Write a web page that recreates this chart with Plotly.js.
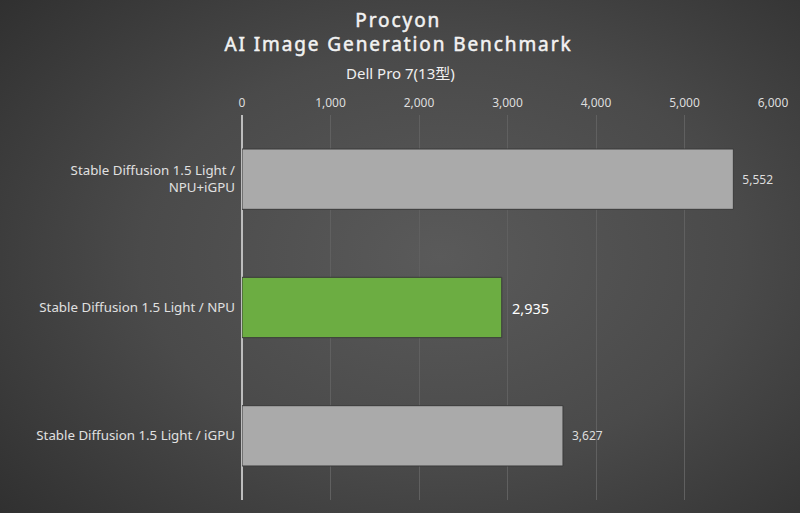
<!DOCTYPE html>
<html>
<head>
<meta charset="utf-8">
<script src="https://cdn.plot.ly/plotly-3.0.1.min.js"></script>
<style>
  html, body { margin: 0; padding: 0; }
  body {
    width: 800px; height: 513px; overflow: hidden;
    background: radial-gradient(ellipse 75% 80% at 55% 50%, #5a5a5a 0%, #4a4a4a 50%, #2e2e2e 100%);
  }
  #chart { width: 800px; height: 513px; }
  .annotation[data-index="0"] text,
  .annotation[data-index="1"] text {
    letter-spacing: 1.9px;
    stroke: #f2f2f2;
    stroke-width: 0.5px;
  }
</style>
</head>
<body>
<div id="chart"></div>
<script>
// benchmark tests, top to bottom
var tests = [
    "Stable Diffusion 1.5 Light /<br>NPU+iGPU",
    "Stable Diffusion 1.5 Light / NPU",
    "Stable Diffusion 1.5 Light / iGPU"
];
var scores = [5552, 2935, 3627];
var scoreLabels = ["5,552", "2,935", "3,627"];
var barColors = ["#aaaaaa", "#6cad42", "#aaaaaa"];
var labelSizes = [12, 14.5, 12];
var labelColors = ["#dddddd", "#ffffff", "#dddddd"];

var pad = '\u2002';

var trace = {
    type: 'bar',
    orientation: 'h',
    x: scores,
    y: tests,
    text: scoreLabels.map(function(s) { return pad + s; }),
    textposition: 'outside',
    cliponaxis: false,
    textfont: { family: 'Noto Sans, sans-serif', size: labelSizes, color: labelColors },
    marker: {
        color: barColors,
        line: { color: '#3a3a3a', width: 1 }
    },
    width: 0.47,
    hoverinfo: 'none'
};

// centre of the page in paper coordinates of the plot area
var cx = (398 - 242) / 531;

var titleFont = { family: 'Noto Sans, sans-serif', size: 19, color: '#f2f2f2' };

var layout = {
    width: 800,
    height: 513,
    paper_bgcolor: 'rgba(0,0,0,0)',
    plot_bgcolor: 'rgba(0,0,0,0)',
    margin: { l: 242, r: 27, t: 115, b: 13 },
    showlegend: false,
    annotations: [{
        text: 'Procyon',
        xref: 'paper', yref: 'paper', x: cx, y: 1,
        xanchor: 'center', yanchor: 'middle', yshift: 95,
        showarrow: false, font: titleFont
    }, {
        text: 'AI Image Generation Benchmark',
        xref: 'paper', yref: 'paper', x: cx, y: 1,
        xanchor: 'center', yanchor: 'middle', yshift: 71,
        showarrow: false, font: titleFont
    }, {
        text: 'Dell Pro 7(13型)',
        xref: 'paper', yref: 'paper', x: (400 - 242) / 531, y: 1,
        xanchor: 'center', yanchor: 'middle', yshift: 42,
        showarrow: false,
        font: { family: 'Noto Sans, Noto Sans CJK JP, sans-serif', size: 15, color: '#f0f0f0' }
    }],
    xaxis: {
        side: 'top',
        range: [0, 6000],
        tickvals: [0, 1000, 2000, 3000, 4000, 5000, 6000],
        ticktext: ['0', '1,000', '2,000', '3,000', '4,000', '5,000', '6,000'],
        tickfont: { family: 'Noto Sans, sans-serif', size: 12, color: '#dddddd' },
        ticks: '',
        ticklabelstandoff: 5,
        showgrid: true,
        gridcolor: '#606060',
        gridwidth: 1,
        zeroline: true,
        zerolinecolor: '#bdbdbd',
        zerolinewidth: 1.5,
        showline: false,
        fixedrange: true
    },
    yaxis: {
        autorange: 'reversed',
        tickfont: { family: 'Noto Sans, sans-serif', size: 13.3, color: '#e0e0e0' },
        ticks: '',
        ticklabelstandoff: 6,
        showgrid: false,
        showline: false,
        zeroline: false,
        fixedrange: true
    }
};

Plotly.newPlot('chart', [trace], layout, { displayModeBar: false, staticPlot: true });
</script>
</body>
</html>
